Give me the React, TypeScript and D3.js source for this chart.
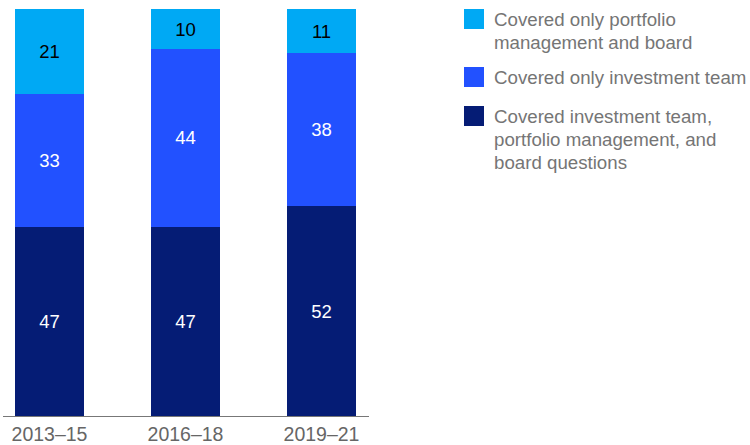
import React from 'react';
import * as d3 from 'd3';

// periods on the x axis
const periods = ['2013–15', '2016–18', '2019–21'];
// series, bottom to top of the stack
const seriesKeys = ['all', 'investment', 'portfolio'];
const allQuestions = [47, 47, 52];
const investmentOnly = [33, 44, 38];
const portfolioOnly = [21, 10, 11];

const legendLabels = [
  ['Covered only portfolio', 'management and board'],
  ['Covered only investment team'],
  ['Covered investment team,', 'portfolio management, and', 'board questions'],
];

const colors = { all: '#051C75', investment: '#2251FF', portfolio: '#00A9F4' };
const textColors = { all: '#ffffff', investment: '#ffffff', portfolio: '#000000' };

const FONT = '"Liberation Sans", Arial, sans-serif';

const App = () => {
  const width = 750;
  const height = 445;
  const baseline = 416;
  const top = 9;

  const rows = periods.map((p, i) => ({
    period: p,
    all: allQuestions[i],
    investment: investmentOnly[i],
    portfolio: portfolioOnly[i],
  }));

  const stacked = d3.stack().keys(seriesKeys)(rows as any);

  const x = d3.scaleBand()
    .domain(periods)
    .range([-18.5, 389.5])
    .paddingInner(0.4926)
    .paddingOuter(0.2463);

  const y = d3.scaleLinear().domain([0, 101]).range([baseline, top]);

  // legend order top to bottom
  const legendKeys = ['portfolio', 'investment', 'all'];
  const legendY = [9, 67, 106];

  return (
    <svg width={width} height={height} style={{ position: 'absolute', left: 0, top: 0, fontFamily: FONT }}>
      {stacked.map(layer => (
        <g key={layer.key}>
          {layer.map((d, i) => {
            const x0 = x(periods[i]) as number;
            const y0 = y(d[1]);
            const h = y(d[0]) - y(d[1]);
            return (
              <g key={i}>
                <rect x={x0} y={y0} width={x.bandwidth()} height={h} fill={colors[layer.key]} shapeRendering="crispEdges" />
                <text
                  x={x0 + x.bandwidth() / 2}
                  y={y0 + h / 2}
                  dy="0.35em"
                  textAnchor="middle"
                  fontSize={18.5}
                  fill={textColors[layer.key]}
                >
                  {d[1] - d[0]}
                </text>
              </g>
            );
          })}
        </g>
      ))}

      <line x1={3} x2={369} y1={baseline + 0.5} y2={baseline + 0.5} stroke="#777" strokeWidth={1} />

      {periods.map(p => (
        <text
          key={p}
          x={(x(p) as number) + x.bandwidth() / 2}
          y={441}
          textAnchor="middle"
          fontSize={19.5}
          fill="#666"
        >
          {p}
        </text>
      ))}

      {legendKeys.map((k, i) => (
        <g key={k} transform={`translate(464,${legendY[i]})`}>
          <rect width={20} height={20} fill={colors[k]} />
          {legendLabels[i].map((line, j) => (
            <text key={j} x={30} y={17 + j * 23} fontSize={18.7} fill="#757575">
              {line}
            </text>
          ))}
        </g>
      ))}
    </svg>
  );
};

export default App;
